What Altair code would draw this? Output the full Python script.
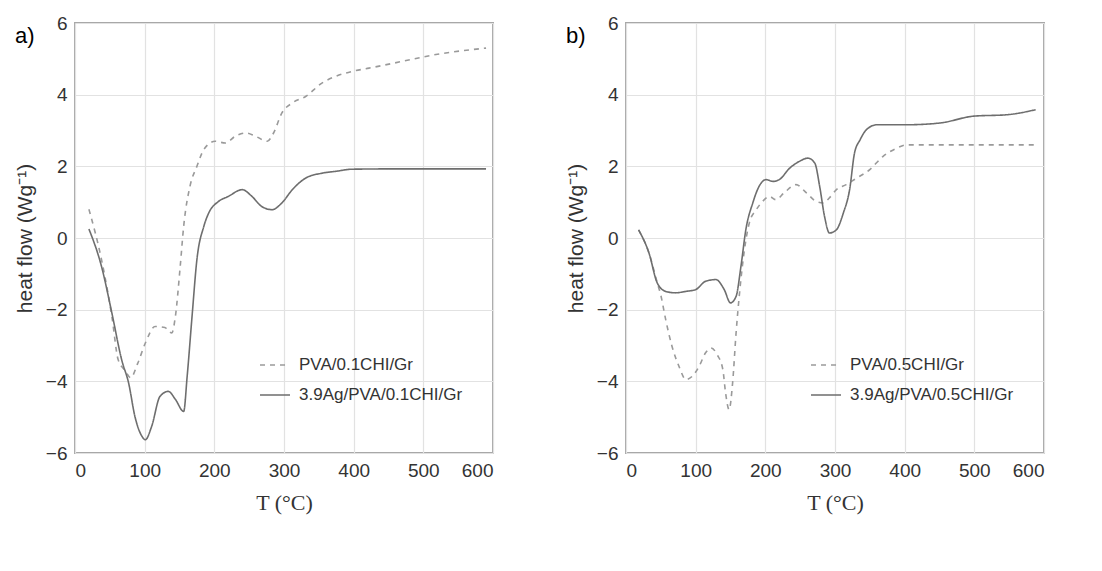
import altair as alt
import pandas as pd

# ---- data ----
a_dash_name = "PVA/0.1CHI/Gr"
a_solid_name = "3.9Ag/PVA/0.1CHI/Gr"
b_dash_name = "PVA/0.5CHI/Gr"
b_solid_name = "3.9Ag/PVA/0.5CHI/Gr"

a_dash_T = [20, 38, 53, 62, 72, 80, 90, 101, 115, 129, 139, 144, 151, 156, 165, 175, 185, 201, 216, 230,
            245, 259, 276, 285, 297, 312, 331, 355, 374, 398, 422, 470, 518, 590]
a_dash_y = [0.8, -0.6, -2.2, -3.4, -3.7, -3.9, -3.5, -2.93, -2.47, -2.5, -2.65, -2.2, -0.8, 0.33, 1.44, 2.0,
            2.47, 2.7, 2.65, 2.84, 2.93, 2.84, 2.7, 2.93, 3.49, 3.77, 3.95, 4.33, 4.51, 4.65, 4.74, 4.93, 5.12, 5.3]

a_solid_T = [20, 38, 53, 67, 77, 86, 96, 101, 110, 122, 134, 144, 156, 161, 168, 175, 185, 192, 206, 220,
             240, 254, 268, 283, 297, 312, 331, 355, 374, 398, 470, 590]
a_solid_y = [0.25, -0.79, -2.1, -3.4, -4.05, -4.98, -5.53, -5.63, -5.26, -4.42, -4.28, -4.5, -4.84, -3.86,
             -2.19, -0.6, 0.33, 0.7, 1.02, 1.16, 1.35, 1.16, 0.88, 0.79, 0.98, 1.35, 1.67, 1.81, 1.86, 1.92,
             1.93, 1.93]

b_solid_T = [18, 33, 45, 57, 71, 86, 100, 114, 129, 141, 150, 158, 165, 172, 182, 191, 201, 211, 220, 235,
             249, 261, 271, 278, 285, 292, 302, 312, 321, 328, 336, 345, 360, 403, 451, 499, 547, 588]
b_solid_y = [0.23, -0.42, -1.26, -1.49, -1.53, -1.49, -1.44, -1.21, -1.16, -1.44, -1.81, -1.63, -0.79, 0.23,
             0.98, 1.44, 1.63, 1.58, 1.63, 1.95, 2.14, 2.23, 2.09, 1.44, 0.6, 0.14, 0.23, 0.7, 1.35, 2.37,
             2.74, 3.02, 3.16, 3.16, 3.21, 3.4, 3.44, 3.58]

b_dash_T = [18, 33, 45, 50, 57, 66, 76, 86, 95, 105, 114, 122, 131, 139, 143, 148, 153, 158, 163, 170,
            177, 187, 196, 206, 215, 227, 244, 259, 273, 283, 292, 302, 316, 331, 350, 369, 389, 403, 451, 588]
b_dash_y = [0.23, -0.42, -1.26, -1.6, -2.28, -3.02, -3.58, -3.95, -3.86, -3.58, -3.21, -3.07, -3.26, -3.67,
            -4.33, -4.79, -4.05, -2.65, -1.53, -0.33, 0.42, 0.79, 1.02, 1.16, 1.07, 1.26, 1.49, 1.26, 1.02,
            0.98, 1.12, 1.35, 1.49, 1.67, 1.91, 2.28, 2.51, 2.6, 2.6, 2.6]

x_ticks = [0, 100, 200, 300, 400, 500, 600]
y_ticks = [-6, -4, -2, 0, 2, 4, 6]


def frame(dash_name, dash_T, dash_y, solid_name, solid_T, solid_y):
    d1 = pd.DataFrame({"T": dash_T, "hf": dash_y, "series": dash_name})
    d2 = pd.DataFrame({"T": solid_T, "hf": solid_y, "series": solid_name})
    return pd.concat([d1, d2], ignore_index=True)


def panel(label, dash_name, dash_T, dash_y, solid_name, solid_T, solid_y):
    df = frame(dash_name, dash_T, dash_y, solid_name, solid_T, solid_y)
    domain = [dash_name, solid_name]
    return (
        alt.Chart(df)
        .mark_line(interpolate="monotone", strokeWidth=1.6)
        .encode(
            x=alt.X("T:Q", scale=alt.Scale(domain=[0, 600], nice=False),
                    axis=alt.Axis(values=x_ticks, title="T (°C)", titleFont="Liberation Serif",
                                  titleFontSize=22, titleFontWeight="normal",
                                  titlePadding=12)),
            y=alt.Y("hf:Q", scale=alt.Scale(domain=[-6, 6], nice=False),
                    axis=alt.Axis(values=y_ticks, title="heat flow (Wg⁻¹)", titlePadding=10)),
            color=alt.Color("series:N", scale=alt.Scale(domain=domain, range=["#9a9a9a", "#6e6e6e"]),
                            sort=domain,
                            legend=alt.Legend(title=None, orient="none", legendX=184, legendY=326,
                                              symbolType="stroke", symbolSize=900, symbolStrokeWidth=1.6,
                                              labelFontSize=17, labelColor="#333", labelOffset=8,
                                              labelLimit=400, rowPadding=6)),
            strokeDash=alt.StrokeDash("series:N", scale=alt.Scale(domain=domain, range=[[5, 5], [1, 0]]),
                                      sort=domain, legend=alt.Legend(title=None)),
            detail="series:N",
        )
        .properties(
            width=418, height=430,
            title=alt.TitleParams(label, anchor="start", frame="group", dx=-60, dy=34, offset=0,
                                  fontSize=22, fontWeight="normal", font="Liberation Sans"),
        )
    )


left = panel("a)", a_dash_name, a_dash_T, a_dash_y, a_solid_name, a_solid_T, a_solid_y)
right = panel("b)", b_dash_name, b_dash_T, b_dash_y, b_solid_name, b_solid_T, b_solid_y)

chart = (
    alt.hconcat(left, right, spacing=70)
    .resolve_scale(color="independent", strokeDash="independent")
    .properties(background="white")
    .configure_view(stroke="#a8a8a8", strokeWidth=2)
    .configure_axis(
        grid=True, gridColor="#e2e2e2", gridWidth=1.2,
        domain=False, ticks=False,
        labelFont="Liberation Sans", labelFontSize=19, labelColor="#333", labelPadding=8,
        titleFont="Liberation Sans", titleFontSize=21, titleFontWeight="normal", titleColor="#333",
    )
)

chart.save("out.html", embed_options={"renderer": "svg", "actions": False})
